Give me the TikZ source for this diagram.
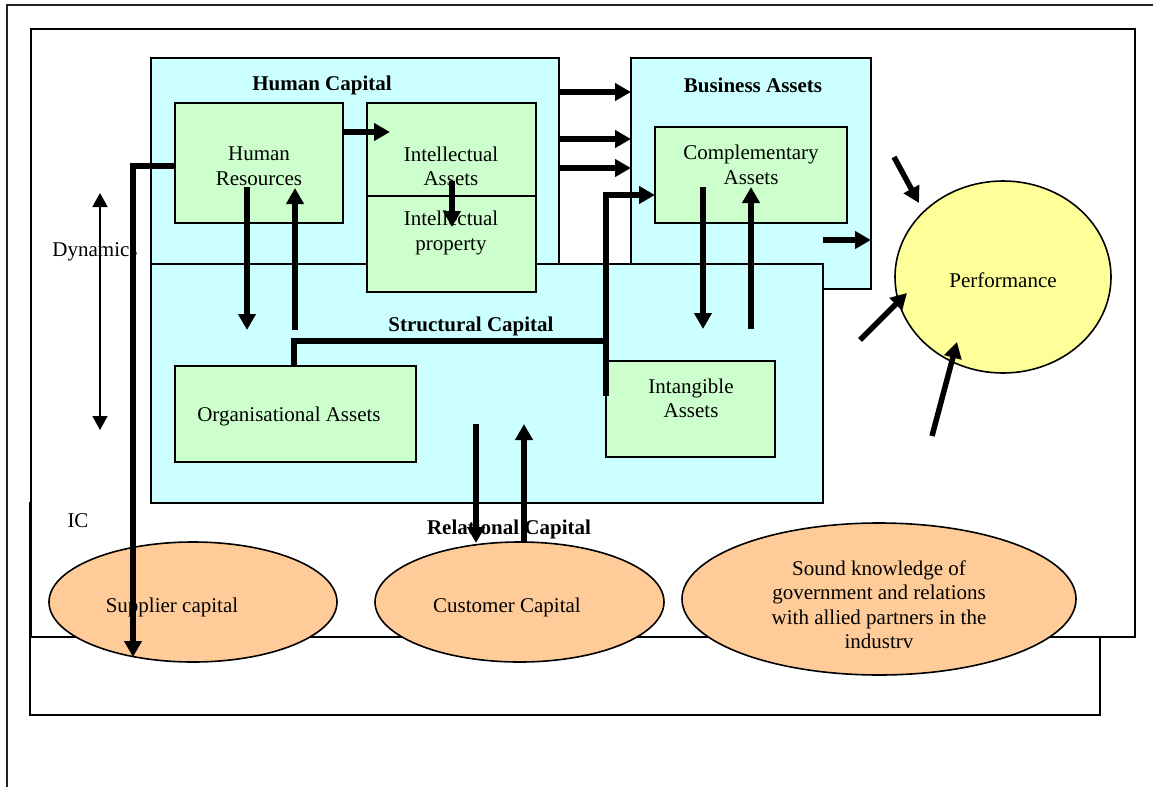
\documentclass[tikz,border=0pt]{standalone}
\usepackage{fontspec}
\setmainfont{Liberation Serif}
\usetikzlibrary{arrows.meta,shapes.geometric}
\definecolor{capcyan}{HTML}{CCFFFF}
\definecolor{assetgreen}{HTML}{CCFFCC}
\definecolor{relorange}{HTML}{FFCC99}
\definecolor{perfyellow}{HTML}{FFFF99}
\definecolor{framegray}{HTML}{222222}

\begin{document}
\begin{tikzpicture}[x=1pt,y=-1pt,
  every node/.style={font=\fontsize{21}{24.5}\selectfont, inner sep=0pt, outer sep=0pt},
  panel/.style={draw, line width=1.6pt, rectangle},
  capbox/.style={panel, fill=capcyan},
  assetbox/.style={panel, fill=assetgreen},
  relell/.style={ellipse, draw, line width=1.6pt, fill=relorange},
  lbl/.style={yshift=-2pt},
  txt/.style={lbl, align=center},
  heading/.style={lbl, font=\fontsize{21}{24.5}\selectfont\bfseries},
  fat/.style={line width=5.5pt, -{Triangle[length=16pt,width=17pt]}},
  fatline/.style={line width=5.5pt},
  thinarrow/.style={line width=1.8pt, {Triangle[length=14pt,width=15pt]}-{Triangle[length=14pt,width=15pt]}},
]
\useasboundingbox (0,0) rectangle (1153,787);
\fill[white] (0,0) rectangle (1153,787);

% page frame
\draw[framegray, line width=1.6pt] (7,787) -- (7,5) -- (1153,5);

% lower frame and the IC frame
\node[panel, minimum width=1070pt, minimum height=212pt] (lower) at (565,609) {};
\node[panel, fill=white, minimum width=1104pt, minimum height=608pt] (icframe) at (583,333) {};

% capital panels
\node[capbox, minimum width=408pt, minimum height=232pt] (hc) at (355,174) {};
\node[capbox, minimum width=240pt, minimum height=231pt] (ba) at (751,173.5) {};
\node[capbox, minimum width=672pt, minimum height=239pt] (sc) at (487,383.5) {};

% asset boxes
\node[assetbox, minimum width=168pt, minimum height=120pt] (hr) at (259,163) {};
\node[assetbox, minimum width=169pt, minimum height=93pt] (ia) at (451.5,149.5) {};
\node[assetbox, minimum width=169pt, minimum height=96pt] (ip) at (451.5,244) {};
\node[assetbox, minimum width=192pt, minimum height=96pt] (ca) at (751,175) {};
\node[assetbox, minimum width=241pt, minimum height=96pt] (oa) at (295.5,414) {};
\node[assetbox, minimum width=169pt, minimum height=96pt] (inta) at (690.5,409) {};

% ellipses
\node[ellipse, draw, line width=1.6pt, fill=perfyellow, minimum width=216pt, minimum height=192pt] (perf) at (1003,277) {};
\node[relell, minimum width=288pt, minimum height=120pt] (sup) at (193,602) {};
\node[relell, minimum width=289pt, minimum height=120pt] (cust) at (519.5,602) {};
\node[relell, minimum width=394pt, minimum height=152pt] (gov) at (879,599) {};

% labels
\node[heading] (hcT) at (322,83) {Human Capital};
\node[heading] (baT) at (753,83) {Business Assets};
\node[heading] (scT) at (471,324) {Structural Capital};
\node[heading] (rcT) at (509,527) {Relational Capital};
\node[txt] (hrT) at (259,164) {Human\\Resources};
\node[txt] (iaT) at (451,164.5) {Intellectual\\Assets};
\node[txt] (ipT) at (451,231) {Intellectual\\property};
\node[txt] (caT) at (751,163) {Complementary\\Assets};
\node[lbl] (oaT) at (289,414) {Organisational Assets};
\node[txt] (intaT) at (691,396.5) {Intangible\\Assets};
\node[lbl] (perfT) at (1003,278) {Performance};
\node[lbl] (dynT) at (95,250) {Dynamics};
\node[lbl] (icT) at (78,519) {IC};
\node[lbl] (supT) at (172,605) {Supplier capital};
\node[lbl] (custT) at (507,605) {Customer Capital};
\node[txt] (govT) at (879,602.5) {Sound knowledge of\\government and relations\\with allied partners in the\\industrv};

% free ends of connectors
\coordinate (dynTop) at (100,193);
\coordinate (dynBot) at (100,430);
\coordinate (perfIn1) at (894,157);
\coordinate (perfIn2) at (860,340);
\coordinate (perfIn3) at (932,436);

% dynamics
\draw[thinarrow] (dynBot) -- (dynTop);

% human capital flows
\draw[fat] (hr.east |- 0,132) -- (390,132);
\draw[fat] (452,181) -- (452,227);
\draw[fat] (247,187) -- (247,330);
\draw[fat] (295,330) -- (295,188);
\draw[fat] (hc.east |- 0,92) -- (ba.west |- 0,92);
\draw[fat] (hc.east |- 0,139) -- (ba.west |- 0,139);
\draw[fat] (hc.east |- 0,168) -- (ba.west |- 0,168);

% structural links
\draw[fatline] (oa.north -| 294,0) -- (294,341) -- (606,341);
\draw[fat] (inta.west |- 0,396) -- (606,195) -- (ca.west |- 0,195);

% complementary assets flows
\draw[fat] (703,187) -- (703,329);
\draw[fat] (751,329) -- (751,187);
\draw[fat] (823,240) -- (ba.east |- 0,240);

% relational flows
\draw[fat] (476,424) -- (476,543);
\draw[fat] (524,543) -- (524,424);

% human resources to supplier capital
\draw[fat] (hr.west |- 0,166) -- (133,166) -- (133,657);

% into performance
\draw[fat] (perfIn1) -- (919,203);
\draw[fat] (perfIn2) -- (907,293);
\draw[fat] (perfIn3) -- (957,342);
\end{tikzpicture}
\end{document}
